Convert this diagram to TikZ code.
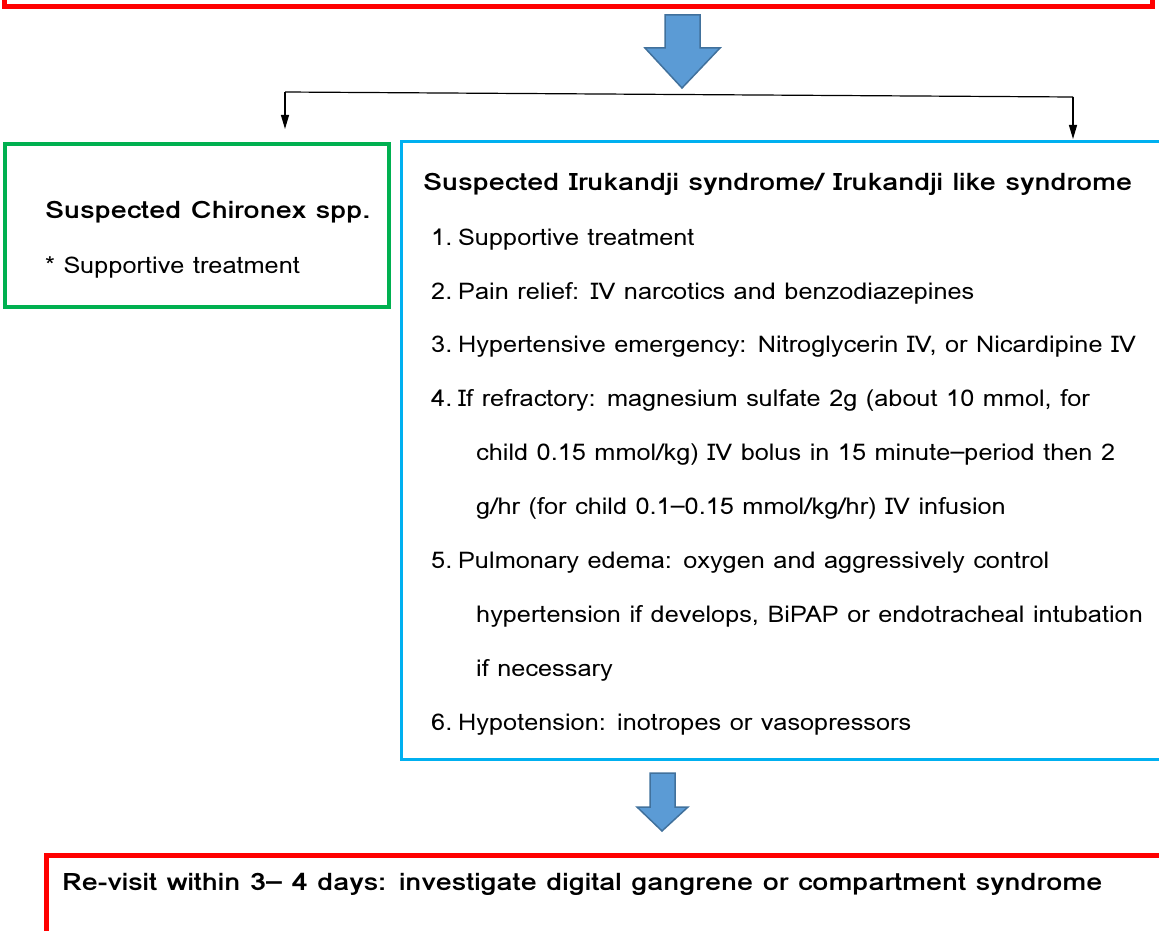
\documentclass[tikz,border=0pt]{standalone}
\usepackage{fontspec}
\setmainfont{Loma}
\newfontfamily\bodyfont[FakeStretch=1.1]{Loma}
\newfontfamily\headfont[FakeStretch=1.2]{Loma}
\usetikzlibrary{arrows.meta,calc}
\definecolor{redB}{RGB}{255,0,0}
\definecolor{greenB}{RGB}{0,176,80}
\definecolor{cyanB}{RGB}{0,176,240}
\definecolor{arrFill}{RGB}{91,155,213}
\definecolor{arrLine}{RGB}{65,113,156}
\tikzset{
  body/.style={anchor=base west,inner sep=0pt,font=\bodyfont\fontsize{23}{27}\selectfont},
  head/.style={anchor=base west,inner sep=0pt,font=\headfont\fontsize{24}{28}\selectfont\bfseries},
  blockarrow/.style={fill=arrFill,draw=arrLine,line width=1.5pt,line join=miter},
  thin/.style={draw=black,line width=1.2pt},
  arr/.style={thin,-{Triangle[length=14pt,width=8pt]}}
}
\begin{document}
\begin{tikzpicture}[x=1pt,y=-1pt]
\useasboundingbox (0,0) rectangle (1159,931);
% top red box (cut off)
\draw[redB,line width=5pt] (4,-40) rectangle (1152,7);
% big block arrow
\path[blockarrow] (665,15) -- (700,15) -- (700,48) -- (720,48) -- (682,88) -- (645,48) -- (665,48) -- cycle;
% connector
\coordinate (hL) at (285,92);
\coordinate (hR) at (1073,97);
\coordinate (tL) at (285,129);
\coordinate (tR) at (1073,139);
\draw[thin] (hL) -- (hR);
\draw[arr] (hL) -- (tL);
\draw[arr] (hR) -- (tR);
% green box
\draw[greenB,line width=4.5pt] (5,144) rectangle (389,307);
\node[head] (chT) at (45,218) {Suspected Chironex spp.};
\node[body] (chS) at (45,273) {* Supportive treatment};
% blue box
\draw[cyanB,line width=3pt] (1200,142) -- (401,142) -- (401,759) -- (1200,759);
\node[head] (irT) at (423,190) {Suspected Irukandji syndrome/ Irukandji like syndrome};
\foreach \n/\y in {1/245,2/299,3/352,4/406,5/568,6/730}{
  \node[body] (num\n) at (431,\y) {\n.};
}
\node[body] (i1) at (458,245) {Supportive treatment};
\node[body] (i2) at (458,299) {Pain relief: IV narcotics and benzodiazepines};
\node[body] (i3) at (458,352) {Hypertensive emergency: Nitroglycerin IV, or Nicardipine IV};
\node[body] (i4a) at (458,406) {If refractory: magnesium sulfate 2g (about 10 mmol, for};
\node[body] (i4b) at (476,460) {child 0.15 mmol/kg) IV bolus in 15 minute–period then 2};
\node[body] (i4c) at (476,514) {g/hr (for child 0.1–0.15 mmol/kg/hr) IV infusion};
\node[body] (i5a) at (458,568) {Pulmonary edema: oxygen and aggressively control};
\node[body] (i5b) at (476,622) {hypertension if develops, BiPAP or endotracheal intubation};
\node[body] (i5c) at (476,676) {if necessary};
\node[body] (i6) at (458,730) {Hypotension: inotropes or vasopressors};
% lower block arrow
\path[blockarrow] (650,773) -- (675,773) -- (675,807) -- (688,807) -- (662,831) -- (637,807) -- (650,807) -- cycle;
% bottom red box
\draw[redB,line width=5pt] (46,980) -- (46,855) -- (1200,855);
\node[head] (rv) at (62,890) {Re-visit within 3– 4 days: investigate digital gangrene or compartment syndrome};
\end{tikzpicture}
\end{document}
